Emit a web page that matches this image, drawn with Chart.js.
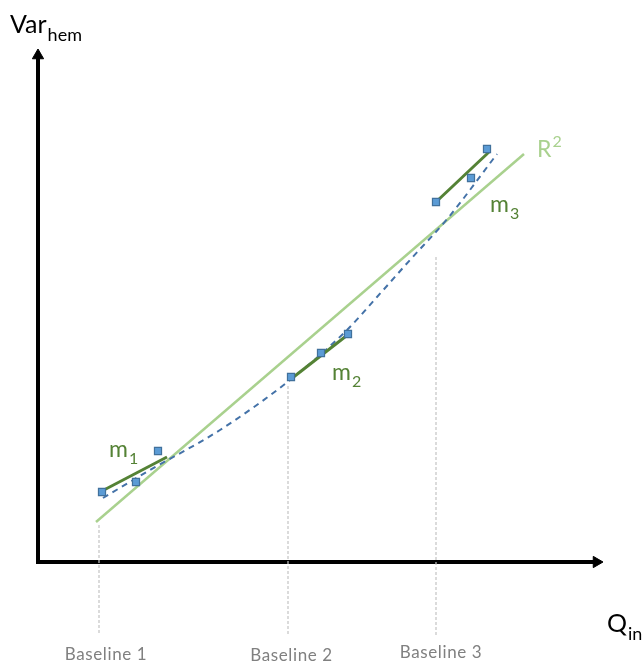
<!DOCTYPE html>
<html><head><meta charset="utf-8">
<script src="https://cdn.jsdelivr.net/npm/chart.js@4"></script>
<style>html,body{margin:0;padding:0;background:#fff;}canvas{display:block;}</style>
</head><body>
<canvas id="c" width="644" height="663"></canvas>
<script>
// Measurements around each baseline: inflow Q_in vs. hemodynamic variability
const groupQ1 = [6.4, 9.8, 12.0];
const groupV1 = [7.0, 8.0, 11.1];
const groupQ2 = [25.3, 28.3, 31.0];
const groupV2 = [18.5, 20.9, 22.8];
const groupQ3 = [39.8, 43.3, 44.9];
const groupV3 = [36.0, 38.4, 41.3];

// Local slopes m1..m3 (segment start / end)
const slopeQ1 = [6.4, 12.9];
const slopeV1 = [7.1, 10.5];
const slopeQ2 = [25.3, 31.2];
const slopeV2 = [18.3, 22.9];
const slopeQ3 = [39.8, 45.1];
const slopeV3 = [36.0, 41.0];

// Global linear fit (R²)
const fitQ = [5.8, 48.6];
const fitV = [4.0, 40.8];

// Curved trend through the three groups
const trendQ = [6.5, 11.2, 18.2, 25.2, 30.9, 33.9, 37.2, 41.0, 45.9];
const trendV = [6.4, 9.2, 13.2, 18.2, 23.2, 26.5, 30.2, 34.4, 40.8];

// Baselines
const baselineNames = ['Baseline 1', 'Baseline 2', 'Baseline 3'];
const baselineQ = [6.1, 25.0, 39.8];
const baselineTop = [3.7, 17.6, 30.5];
const baselineBottom = -7.3;

// Axis extents (arrow head centres)
const axisTopV = 50.65;
const axisEndQ = 55.85;

const pts = (xs, ys) => xs.map((q, i) => ({ x: q, y: ys[i] }));

const DARK_GREEN = '#548235';
const LIGHT_GREEN = '#a9d18e';
const BLUE_FILL = '#5b9bd5';
const BLUE_EDGE = '#41719c';

const pointSet = (xs, ys) => ({
  data: pts(xs, ys), showLine: false, pointStyle: 'rect', pointRadius: 5,
  pointBackgroundColor: BLUE_FILL, pointBorderColor: BLUE_EDGE, pointBorderWidth: 1.2
});
const slopeSet = (xs, ys) => ({
  data: pts(xs, ys), showLine: true, borderColor: DARK_GREEN, borderWidth: 3, pointRadius: 0
});
const baselineSets = baselineQ.map((q, i) => ({
  data: [{ x: q, y: baselineTop[i] }, { x: q, y: baselineBottom }],
  showLine: true, borderColor: '#c3c3c3', borderWidth: 1.2, borderDash: [3, 2], pointRadius: 0
}));

const datasets = [
  pointSet(groupQ1, groupV1), pointSet(groupQ2, groupV2), pointSet(groupQ3, groupV3),
  slopeSet(slopeQ1, slopeV1), slopeSet(slopeQ2, slopeV2), slopeSet(slopeQ3, slopeV3),
  { data: pts(trendQ, trendV), showLine: true, borderColor: '#4472a8', borderWidth: 2,
    borderDash: [6, 5], pointRadius: 0, cubicInterpolationMode: 'monotone' },
  { data: pts(fitQ, fitV), showLine: true, borderColor: LIGHT_GREEN, borderWidth: 2.5, pointRadius: 0 },
  ...baselineSets,
  // Axes with arrow heads at both ends
  { data: [{ x: 0, y: axisTopV }, { x: 0, y: 0 }, { x: axisEndQ, y: 0 }], showLine: true,
    borderColor: '#000', borderWidth: 4, borderJoinStyle: 'miter',
    pointStyle: 'triangle', pointRadius: [6.5, 0, 6.5], pointRotation: [0, 0, 90],
    pointBackgroundColor: '#000', pointBorderColor: '#000', pointBorderWidth: 1 }
];

// Text annotations in data coordinates
const annotations = [
  { q: -2.8, v: 52.9, main: 'Var', sub: 'hem', size: 25, small: 18, color: '#000' },
  { q: 56.9, v: -7.0, main: 'Q', sub: 'in', size: 25, small: 18, color: '#000' },
  { q: 7.1, v: 10.5, main: 'm', sub: '1', size: 23, small: 16, color: DARK_GREEN },
  { q: 29.4, v: 18.2, main: 'm', sub: '2', size: 23, small: 16, color: DARK_GREEN },
  { q: 45.2, v: 35.0, main: 'm', sub: '3', size: 23, small: 16, color: DARK_GREEN },
  { q: 49.9, v: 40.5, main: 'R', sup: '2', size: 23, small: 16, color: LIGHT_GREEN }
];
const baselineLabelAt = [{ q: 6.8, v: -9.8 }, { q: 25.35, v: -9.9 }, { q: 40.3, v: -9.6 }];

const textPlugin = {
  id: 'textLabels',
  afterDatasetsDraw(chart) {
    const { ctx, scales: { x, y } } = chart;
    ctx.save();
    ctx.textBaseline = 'alphabetic';
    annotations.forEach(a => {
      const px = x.getPixelForValue(a.q), py = y.getPixelForValue(a.v);
      ctx.fillStyle = a.color;
      ctx.textAlign = 'left';
      ctx.font = a.size + 'px Lato';
      ctx.fillText(a.main, px, py);
      const w = ctx.measureText(a.main).width;
      ctx.font = a.small + 'px Lato';
      if (a.sub) ctx.fillText(a.sub, px + w + 1, py + a.size * 0.3);
      if (a.sup) ctx.fillText(a.sup, px + w + 1, py - a.size * 0.42);
    });
    ctx.fillStyle = '#808080';
    ctx.textAlign = 'center';
    ctx.font = '17px Lato';
    ctx.letterSpacing = '0.6px';
    baselineNames.forEach((name, i) => {
      const p = baselineLabelAt[i];
      ctx.fillText(name, x.getPixelForValue(p.q), y.getPixelForValue(p.v));
    });
    ctx.restore();
  }
};

new Chart(document.getElementById('c'), {
  type: 'scatter',
  data: { datasets },
  options: {
    responsive: false,
    animation: false,
    layout: { padding: 0, autoPadding: false },
    plugins: { legend: { display: false }, tooltip: { enabled: false } },
    scales: {
      x: { type: 'linear', display: false, min: -3.8, max: 60.6 },
      y: { type: 'linear', display: false, min: -10.1, max: 56.2 }
    }
  },
  plugins: [textPlugin]
});
</script>
</body></html>
